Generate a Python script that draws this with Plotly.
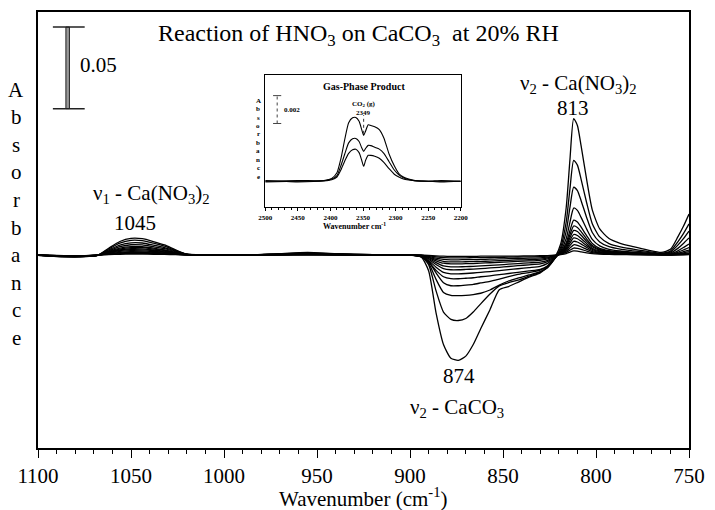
import plotly.graph_objects as go

# ---------------- data (main panel, absorbance in units of 0.001) ----------------
wavenumber = [1100, 1090, 1078, 1068, 1062, 1056, 1050, 1044, 1038, 1032, 1026, 1020,
              1010, 990, 970, 955, 940, 920, 902,
              894, 890, 886, 882, 878, 874, 870, 866, 862, 857, 852, 847, 842, 836, 830, 826, 822,
              819, 816, 814, 812, 810, 808, 805, 802, 798, 793, 787, 780, 772, 765,
              760, 756, 753, 750]

s01 = [-0.3, -1.0, -1.2,
       -0.3, 4.1, 8.2, 10.1, 9.9, 8.2, 6.1, 3.1, 0.5,
       0, -0.3, 0.8, 1.5, 0.8, 0.2, 0,
       -1.3, -9.7, -35.5, -54.9, -63.3, -64.6, -62.0, -54.9, -45.2, -33.6, -21.3, -19.4, -16.8, -13.6, -11.0, -7.1, -1.3,
       6.7, 29.2, 58.5, 83.5, 79.3, 66.8, 45.9, 27.6, 15.9, 10.0, 7.1, 5.0, 2.9, 1.5,
       3.4, 11, 17.5, 25]
s02 = [-0.3, -0.9, -1.1,
       -0.3, 3.6, 7.2, 8.9, 8.7, 7.2, 5.4, 2.7, 0.5,
       0, -0.2, 0.6, 1.2, 0.6, 0.1, 0,
       -1, -6, -22, -35, -39.5, -40.2, -39, -35, -30, -24, -19, -17, -15.5, -13, -10.5, -7.5, -2,
       4.6, 20.3, 40.5, 57.9, 55.0, 46.3, 31.8, 19.1, 11.0, 6.9, 4.9, 3.5, 2.0, 1.0,
       2.3, 8, 13, 19]
s03 = [-0.2, -0.9, -1.1,
       -0.3, 3.0, 6.0, 7.4, 7.3, 6.0, 4.5, 2.3, 0.4,
       0, -0.2, 0.5, 1.0, 0.5, 0.1, 0,
       -1, -5, -15, -23, -24.8, -25, -24.8, -24.3, -23.5, -21.5, -18.5, -16, -14.2, -12.3, -10.3, -7.8, -2,
       3.3, 14.5, 29.1, 41.5, 39.4, 33.2, 22.8, 13.7, 7.9, 5.0, 3.5, 2.5, 1.5, 0.7,
       1.7, 6, 10, 14.6]
s04 = [-0.2, -0.8, -1.0,
       -0.3, 2.5, 5.0, 6.2, 6.1, 5.0, 3.8, 1.9, 0.3,
       0, 0, 0.4, 0.8, 0.4, 0, 0,
       -1, -4, -11, -17, -18.9, -18.9, -18.5, -18, -17.2, -16.2, -14.8, -13.3, -12, -10.8, -9.3, -7, -2,
       2.3, 10.0, 20.1, 28.7, 27.3, 23.0, 15.8, 9.5, 5.5, 3.4, 2.4, 1.7, 1.0, 0.5,
       1.1, 4, 7, 10.4]
s05 = [-0.2, -0.8, -1.0,
       -0.3, 2.1, 4.2, 5.1, 5.0, 4.2, 3.1, 1.6, 0.3,
       0, 0, 0.3, 0.6, 0.3, 0, 0,
       -1.2, -4.4, -9.5, -13.4, -14.6, -14.6, -14.3, -14.0, -13.4, -12.8, -12.1, -11.4, -10.7, -9.8, -8.8, -6.6, -1.8,
       1.7, 7.5, 14.9, 21.3, 20.2, 17.0, 11.7, 7.0, 4.0, 2.6, 1.8, 1.3, 0.7, 0.4,
       0.6, 2.5, 4.5, 6.7]
s06 = [-0.2, -0.7, -0.9,
       -0.3, 1.8, 3.6, 4.5, 4.4, 3.6, 2.7, 1.4, 0.2,
       0, 0, 0.3, 0.5, 0.3, 0, 0,
       -0.9, -3.5, -7.5, -10.7, -11.6, -11.6, -11.4, -11.1, -10.7, -10.2, -9.6, -9.0, -8.5, -7.8, -7.0, -5.2, -1.4,
       1.4, 6.2, 12.4, 17.7, 16.8, 14.2, 9.7, 5.8, 3.4, 2.1, 1.5, 1.1, 0.6, 0.3,
       0.4, 1.6, 3.0, 4.5]
s07 = [-0.2, -0.7, -0.9,
       -0.2, 1.5, 3.0, 3.8, 3.7, 3.0, 2.3, 1.1, 0.2,
       0, 0, 0.2, 0.4, 0.2, 0, 0,
       -0.7, -2.7, -5.9, -8.4, -9.1, -9.1, -8.9, -8.7, -8.4, -8.0, -7.6, -7.1, -6.6, -6.1, -5.5, -4.1, -1.1,
       1.2, 5.3, 10.5, 15.0, 14.3, 12.0, 8.3, 5.0, 2.9, 1.8, 1.3, 0.9, 0.5, 0.3,
       0.3, 1.0, 2.0, 3.0]
s08 = [-0.1, -0.6, -0.8,
       -0.2, 1.3, 2.6, 3.2, 3.1, 2.6, 1.9, 1.0, 0.2,
       0, 0, 0.2, 0.4, 0.2, 0, 0,
       -0.6, -2.2, -4.7, -6.7, -7.3, -7.3, -7.2, -7.0, -6.7, -6.4, -6.1, -5.7, -5.3, -4.9, -4.4, -3.3, -0.9,
       1.0, 4.4, 8.8, 12.5, 11.9, 10.0, 6.9, 4.1, 2.4, 1.5, 1.1, 0.8, 0.4, 0.2,
       0.2, 0.7, 1.3, 2.0]
s09 = [-0.1, -0.6, -0.8,
       -0.2, 1.0, 2.1, 2.6, 2.5, 2.1, 1.6, 0.8, 0.1,
       0, 0, 0.1, 0.3, 0.1, 0, 0,
       -0.4, -1.7, -3.6, -5.1, -5.5, -5.5, -5.4, -5.3, -5.1, -4.8, -4.6, -4.3, -4.0, -3.7, -3.3, -2.5, -0.7,
       0.8, 3.6, 7.3, 10.4, 9.9, 8.3, 5.7, 3.4, 2.0, 1.2, 0.9, 0.6, 0.4, 0.2,
       0.1, 0.4, 0.8, 1.2]
s10 = [-0.1, -0.5, -0.7,
       -0.2, 0.8, 1.6, 2.0, 1.9, 1.6, 1.2, 0.6, 0.1,
       0, 0, 0.1, 0.2, 0.1, 0, 0,
       -0.3, -1.3, -2.8, -4.0, -4.3, -4.3, -4.2, -4.1, -4.0, -3.8, -3.6, -3.4, -3.1, -2.9, -2.6, -1.9, -0.5,
       0.7, 2.9, 5.8, 8.3, 7.9, 6.6, 4.6, 2.7, 1.6, 1.0, 0.7, 0.5, 0.3, 0.1,
       0.1, 0.3, 0.5, 0.8]
s11 = [-0.1, -0.5, -0.7,
       -0.2, 0.6, 1.2, 1.5, 1.5, 1.2, 0.9, 0.5, 0.1,
       0, 0, 0.1, 0.2, 0.1, 0, 0,
       -0.2, -0.9, -2.0, -2.8, -3.0, -3.0, -2.9, -2.9, -2.8, -2.6, -2.5, -2.3, -2.2, -2.0, -1.8, -1.4, -0.4,
       0.5, 2.2, 4.3, 6.2, 5.9, 5.0, 3.4, 2.0, 1.2, 0.7, 0.5, 0.4, 0.2, 0.1,
       0.0, 0.2, 0.3, 0.5]
s12 = [0, -0.4, -0.6,
       -0.1, 0.4, 0.8, 1.0, 1.0, 0.8, 0.6, 0.3, 0.1,
       0, 0, 0, 0.1, 0, 0, 0,
       -0.1, -0.5, -1.2, -1.7, -1.8, -1.8, -1.8, -1.7, -1.7, -1.6, -1.5, -1.4, -1.3, -1.2, -1.1, -0.8, -0.2,
       0.3, 1.5, 2.9, 4.2, 4.0, 3.4, 2.3, 1.4, 0.8, 0.5, 0.4, 0.3, 0.1, 0.1,
       0.0, 0.1, 0.2, 0.3]
s13 = [0, -0.3, -0.5,
       -0.1, 0.2, 0.4, 0.5, 0.5, 0.4, 0.3, 0.2, 0.0,
       0, 0, 0, 0.1, 0, 0, 0,
       -0.1, -0.3, -0.6, -0.8, -0.9, -0.9, -0.9, -0.9, -0.8, -0.8, -0.7, -0.7, -0.7, -0.6, -0.5, -0.4, -0.1,
       0.2, 0.8, 1.7, 2.4, 2.3, 1.9, 1.3, 0.8, 0.5, 0.3, 0.2, 0.1, 0.1, 0.0,
       0.0, 0.0, 0.1, 0.2]

main_ticks = [1100, 1050, 1000, 950, 900, 850, 800, 750]
scale_bar_mAbs = 50          # 0.05 absorbance

# ---------------- data (inset, gas-phase product) ----------------
gas_wn = [2500, 2450, 2410, 2398, 2390, 2384, 2378, 2372, 2366, 2361, 2356, 2352, 2349,
          2346, 2342, 2338, 2332, 2325, 2318, 2310, 2302, 2295, 2288, 2280, 2270, 2250, 2230, 2200]
gas_hi = [0.05, -0.05, 0.05, 0.2, 0.6, 1.6, 3.0, 4.2, 4.55, 4.57, 4.3, 3.7, 3.29,
          3.6, 4.05, 4.0, 3.9, 3.7, 3.1, 1.95, 1.1, 0.55, 0.3, 0.15, 0.05, 0, 0.05, 0]
gas_mid = [0, 0.05, 0.03, 0.15, 0.4, 1.1, 1.95, 2.75, 3.05, 3.07, 2.85, 2.4, 2.14,
           2.35, 2.57, 2.55, 2.43, 2.3, 2.0, 1.4, 0.8, 0.45, 0.25, 0.12, 0.03, 0, 0, 0]
gas_lo = [-0.05, 0, 0.02, 0.1, 0.3, 0.8, 1.45, 2.0, 2.25, 2.29, 2.05, 1.5, 1.07,
          1.5, 1.86, 1.85, 1.79, 1.65, 1.35, 0.9, 0.5, 0.3, 0.15, 0.08, 0.02, 0, -0.05, 0]
inset_ticks = [2500, 2450, 2400, 2350, 2300, 2250, 2200]
inset_scale_mAbs = 2         # 0.002 absorbance

# ---------------- figure ----------------
SERIF = "Liberation Serif, Times New Roman, serif"
W, H = 715, 510
L, R, T, B = 38, 694, 10, 448


def px(x):
    return (x - L) / (R - L)


def py(y):
    return (B - y) / (B - T)


fig = go.Figure()
for s in [s01, s02, s03, s04, s05, s06, s07, s08, s09, s10, s11, s12, s13]:
    fig.add_trace(go.Scatter(x=wavenumber, y=s, mode="lines",
                             line=dict(color="black", width=1.3, shape="spline", smoothing=0.6),
                             showlegend=False, hoverinfo="skip"))

for g in [gas_hi, gas_mid, gas_lo]:
    fig.add_trace(go.Scatter(x=gas_wn, y=g, mode="lines", xaxis="x2", yaxis="y2",
                             line=dict(color="black", width=1.1, shape="spline", smoothing=0.6),
                             showlegend=False, hoverinfo="skip"))

annotations = []


def note(x, y, text, size, bold=False):
    font = dict(family=SERIF, size=size, color="black")
    if bold:
        font["weight"] = "bold"
    annotations.append(dict(x=px(x), y=py(y), xref="paper", yref="paper", text=text,
                            showarrow=False, xanchor="center", yanchor="middle", font=font))


note(361, 33, "Reaction of HNO<sub>3</sub> on CaCO<sub>3</sub>  at 20% RH", 24)
note(99, 63, "0.05", 21)
note(152, 193, "ν<sub>1</sub> - Ca(NO<sub>3</sub>)<sub>2</sub>", 21)
note(136, 222, "1045", 21)
note(583, 82, "ν<sub>2</sub> - Ca(NO<sub>3</sub>)<sub>2</sub>", 21)
note(577, 106, "813", 21)
note(462, 376, "874", 21)
note(460, 408, "ν<sub>2</sub> - CaCO<sub>3</sub>", 21)
note(366, 498, "Wavenumber (cm<sup>-1</sup>)", 21)

for i, ch in enumerate("Absorbance"):
    note(16, 88 + i * 27.7, ch, 21)

# inset texts
note(366, 85, "Gas-Phase Product", 10, bold=True)
note(367, 102, "CO<sub>2</sub> (g)", 7, bold=True)
note(366, 111, "2349", 7, bold=True)
note(294, 108, "0.002", 7, bold=True)
note(357, 225, "Wavenumber cm<sup>-1</sup>", 8, bold=True)
for i, ch in enumerate("Absorbance"):
    note(260, 99 + i * 8.5, ch, 7, bold=True)

shapes = []
# main 0.05 scale bar (data coordinates)
bar_top = 139.6
bar_bot = bar_top - scale_bar_mAbs
shapes.append(dict(type="rect", xref="x", yref="y", x0=1085.0, x1=1083.1, y0=bar_bot, y1=bar_top,
                   line=dict(color="#222", width=1), fillcolor="#999"))
for yy in (bar_bot, bar_top):
    shapes.append(dict(type="line", xref="x", yref="y", x0=1092.0, x1=1074.9, y0=yy, y1=yy,
                       line=dict(color="#222", width=1.5)))
# inset 0.002 scale bar
ib_top = 6.14
ib_bot = ib_top - inset_scale_mAbs
shapes.append(dict(type="line", xref="x2", yref="y2", x0=2481.7, x1=2481.7, y0=ib_bot, y1=ib_top,
                   line=dict(color="#444", width=1, dash="dot")))
for yy in (ib_bot, ib_top):
    shapes.append(dict(type="line", xref="x2", yref="y2", x0=2488, x1=2475.5, y0=yy, y1=yy,
                       line=dict(color="#444", width=1)))
# dotted marker at 2349
shapes.append(dict(type="line", xref="x2", yref="y2", x0=2349, x1=2349, y0=3.4, y1=4.75,
                   line=dict(color="#333", width=1, dash="dot")))

fig.update_layout(
    width=W, height=H,
    margin=dict(l=L, r=W - R, t=T, b=H - B),
    paper_bgcolor="white", plot_bgcolor="white",
    showlegend=False,
    font=dict(family=SERIF, color="black"),
    xaxis=dict(range=[1100, 750], domain=[0, 1], showline=True, linecolor="black", linewidth=1.5,
               mirror=True, ticks="outside", ticklen=8, tickwidth=1.2, tickcolor="black",
               tickvals=main_ticks, showgrid=False, zeroline=False,
               minor=dict(dtick=10, tick0=750, ticks="outside", ticklen=4, tickwidth=1, tickcolor="black",
                          showgrid=False),
               tickfont=dict(family=SERIF, size=21, color="black")),
    yaxis=dict(range=[-118.3, 148.8], domain=[0, 1], showline=True, linecolor="black", linewidth=1.5,
               mirror=True, ticks="", showticklabels=False, showgrid=False, zeroline=False),
    xaxis2=dict(range=[2500, 2200], domain=[px(267), px(464)], anchor="y2", showline=True,
                linecolor="black", linewidth=1, mirror=True, ticks="outside", ticklen=3, tickwidth=1,
                tickcolor="black", tickvals=inset_ticks, showgrid=False, zeroline=False,
                minor=dict(dtick=10, tick0=2200, ticks="outside", ticklen=2, tickwidth=0.8,
                           tickcolor="black", showgrid=False),
                tickfont=dict(family=SERIF, size=7, color="black", weight="bold")),
    yaxis2=dict(range=[-1.86, 7.64], domain=[py(206), py(73)], anchor="x2", showline=True,
                linecolor="black", linewidth=1, mirror=True, ticks="", showticklabels=False,
                showgrid=False, zeroline=False),
    annotations=annotations,
    shapes=shapes,
)

fig.write_html("out.html")
